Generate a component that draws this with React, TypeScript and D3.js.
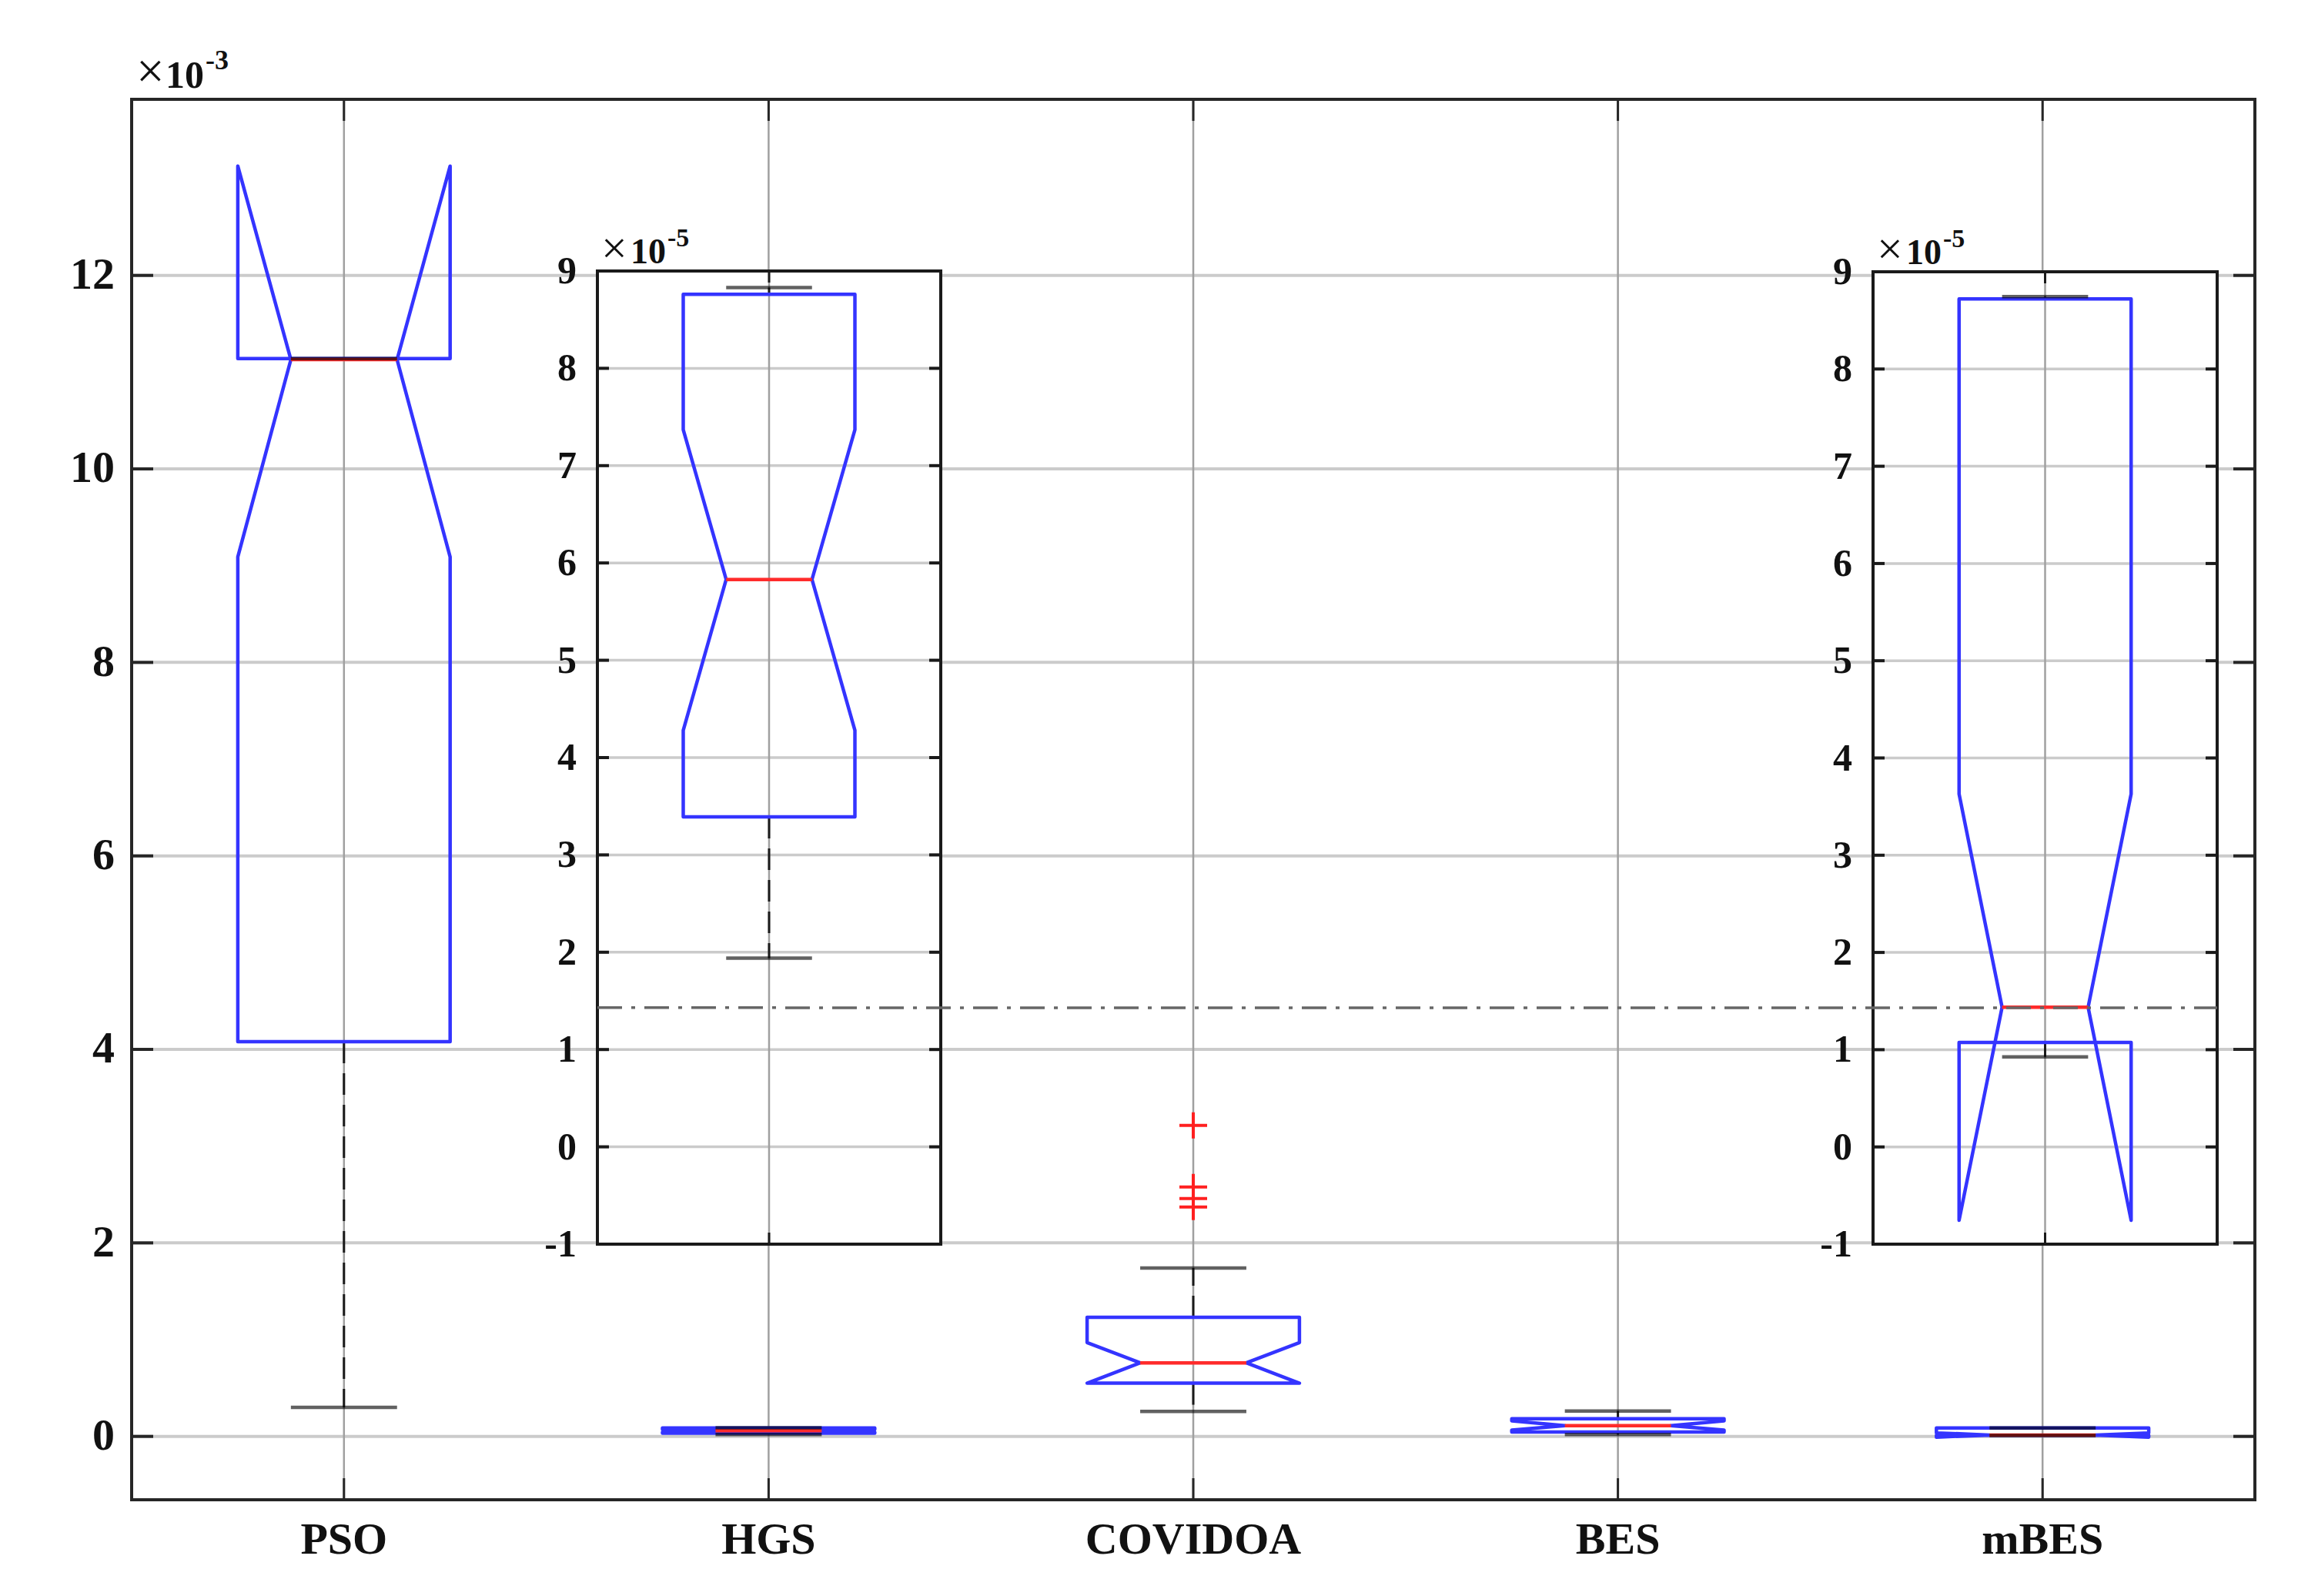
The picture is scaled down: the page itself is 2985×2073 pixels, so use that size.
import React from "react";
import * as d3 from "d3";

// main axes, values x1e-3
const categories = ["PSO", "HGS", "COVIDOA", "BES", "mBES"];
const whiskerLo = [0.3, 0.0194, 0.258, 0.019, 0.0093];
const q1 = [4.08, 0.0339, 0.55, 0.045, 0.0107];
const notchLo = [9.09, 0.0428, 0.55, 0.065, -0.0075];
const median = [11.13, 0.0583, 0.76, 0.111, 0.0144];
const notchHi = [13.13, 0.0737, 0.97, 0.16, 0.0363];
const q3 = [11.14, 0.0876, 1.23, 0.183, 0.0872];
const whiskerHi = [11.14, 0.0882, 1.74, 0.263, 0.0875];
const outliers = [[], [], [3.215, 2.578, 2.459, 2.371], [], []];
const yTicks = [0, 2, 4, 6, 8, 10, 12];

// zoomed insets, values x1e-5
const insetCategories = ["HGS", "mBES"];
const insetWhiskerLo = [1.94, 0.926];
const insetQ1 = [3.39, 1.074];
const insetNotchLo = [4.28, -0.754];
const insetMedian = [5.83, 1.437];
const insetNotchHi = [7.37, 3.63];
const insetQ3 = [8.76, 8.72];
const insetWhiskerHi = [8.83, 8.745];
const insetTicks = [-1, 0, 1, 2, 3, 4, 5, 6, 7, 8, 9];
const refLevel = 1.43; // dash-dot reference (mBES median)

const W = 2985, H = 2073;
const FONT = "'Liberation Serif', 'Times New Roman', serif";
const main = { left: 171, right: 2929, top: 129, bottom: 1948 };
const insetBoxes = [
  { left: 776, right: 1222, top: 352, bottom: 1616 },
  { left: 2433, right: 2880, top: 353, bottom: 1616 },
];

const line = d3.line<[number, number]>();

function BoxGlyph({ x, y, pos, s }) {
  const L = x(pos - 0.25), R = x(pos + 0.25), C = x(pos);
  const IL = x(pos - 0.125), IR = x(pos + 0.125);
  const poly: [number, number][] = [
    [L, y(s.q1)], [L, y(s.nlo)], [IL, y(s.med)], [L, y(s.nhi)], [L, y(s.q3)],
    [R, y(s.q3)], [R, y(s.nhi)], [IR, y(s.med)], [R, y(s.nlo)], [R, y(s.q1)],
  ];
  return (
    <g>
      <line x1={C} x2={C} y1={y(s.q3)} y2={y(s.whi)} stroke="#1a1a1a" strokeWidth={3} strokeDasharray="28 13" />
      <line x1={C} x2={C} y1={y(s.q1)} y2={y(s.wlo)} stroke="#1a1a1a" strokeWidth={3} strokeDasharray="28 13" />
      <path d={line(poly) + "Z"} fill="none" stroke="#3434ff" strokeWidth={4.5} strokeLinejoin="round" />
      <line x1={IL} x2={IR} y1={y(s.med)} y2={y(s.med)} stroke="#ff2b2b" strokeWidth={4.5} />
      <line x1={IL} x2={IR} y1={y(s.whi)} y2={y(s.whi)} stroke="#000" strokeOpacity={0.62} strokeWidth={4.5} />
      <line x1={IL} x2={IR} y1={y(s.wlo)} y2={y(s.wlo)} stroke="#000" strokeOpacity={0.62} strokeWidth={4.5} />
      {s.out.map((v, i) => (
        <path key={i} d={`M${C - 18},${y(v)}H${C + 18}M${C},${y(v) - 17}V${y(v) + 17}`} stroke="#ff2020" strokeWidth={4} />
      ))}
    </g>
  );
}

function Exponent({ x, y, size, dx10, dxSup, supSize, supDy, sup }) {
  return (
    <text x={x} y={y} fontFamily={FONT} fontSize={size} fill="#111">
      <tspan fontSize={size * 1.3}>×</tspan>
      <tspan x={x + dx10} fontWeight="bold">10</tspan>
      <tspan x={x + dxSup} dy={supDy} fontSize={supSize} fontWeight="bold">{sup}</tspan>
    </text>
  );
}

export default function App() {
  const x = d3.scaleLinear().domain([0.5, 5.5]).range([main.left, main.right]);
  const y = d3.scaleLinear().domain([-0.655, 13.82]).range([main.bottom, main.top]);
  const stats = categories.map((c, i) => ({
    wlo: whiskerLo[i], q1: q1[i], nlo: notchLo[i], med: median[i],
    nhi: notchHi[i], q3: q3[i], whi: whiskerHi[i], out: outliers[i],
  }));
  const insets = insetCategories.map((c, i) => {
    const b = insetBoxes[i];
    return {
      b,
      x: d3.scaleLinear().domain([0.5, 1.5]).range([b.left, b.right]),
      y: d3.scaleLinear().domain([-1, 9]).range([b.bottom, b.top]),
      s: {
        wlo: insetWhiskerLo[i], q1: insetQ1[i], nlo: insetNotchLo[i], med: insetMedian[i],
        nhi: insetNotchHi[i], q3: insetQ3[i], whi: insetWhiskerHi[i], out: [],
      },
    };
  });
  const tick = 28, itick = 15;

  return (
    <div style={{ position: "fixed", left: 0, top: 0 }}>
      <svg width={W} height={H} style={{ display: "block", background: "#fff" }}>
        {/* main grid */}
        {yTicks.map(t => (
          <line key={"gy" + t} x1={main.left} x2={main.right} y1={y(t)} y2={y(t)} stroke="#cbcbcb" strokeWidth={4} />
        ))}
        {categories.map((c, i) => (
          <line key={"gx" + c} x1={x(i + 1)} x2={x(i + 1)} y1={main.top} y2={main.bottom} stroke="#a0a0a0" strokeWidth={2.5} />
        ))}
        {/* main boxes */}
        {stats.map((s, i) => <BoxGlyph key={categories[i]} x={x} y={y} pos={i + 1} s={s} />)}
        {/* main frame and ticks */}
        <rect x={main.left} y={main.top} width={main.right - main.left} height={main.bottom - main.top} fill="none" stroke="#262626" strokeWidth={4} />
        {yTicks.map(t => (
          <g key={"ty" + t}>
            <line x1={main.left} x2={main.left + tick} y1={y(t)} y2={y(t)} stroke="#262626" strokeWidth={4} />
            <line x1={main.right - tick} x2={main.right} y1={y(t)} y2={y(t)} stroke="#262626" strokeWidth={4} />
            <text x={main.left - 22} y={y(t)} dy="0.3em" textAnchor="end" fontFamily={FONT} fontWeight="bold" fontSize={58} fill="#111">{t}</text>
          </g>
        ))}
        {categories.map((c, i) => (
          <g key={"tx" + c}>
            <line x1={x(i + 1)} x2={x(i + 1)} y1={main.bottom} y2={main.bottom - tick} stroke="#262626" strokeWidth={3} />
            <line x1={x(i + 1)} x2={x(i + 1)} y1={main.top} y2={main.top + tick} stroke="#262626" strokeWidth={3} />
            <text x={x(i + 1)} y={2018} textAnchor="middle" fontFamily={FONT} fontWeight="bold" fontSize={58} fill="#111">{c}</text>
          </g>
        ))}
        <Exponent x={177} y={114} size={50} dx10={38} dxSup={90} supSize={36} supDy={-24} sup="-3" />

        {/* insets */}
        {insets.map((ins, k) => {
          const { b } = ins;
          return (
            <g key={"inset" + k}>
              <rect x={b.left} y={b.top} width={b.right - b.left} height={b.bottom - b.top} fill="#fff" />
              {insetTicks.map(t => (
                <line key={"igy" + t} x1={b.left} x2={b.right} y1={ins.y(t)} y2={ins.y(t)} stroke="#cbcbcb" strokeWidth={3.5} />
              ))}
              <line x1={ins.x(1)} x2={ins.x(1)} y1={b.top} y2={b.bottom} stroke="#a0a0a0" strokeWidth={2.5} />
              <BoxGlyph x={ins.x} y={ins.y} pos={1} s={ins.s} />
              <rect x={b.left} y={b.top} width={b.right - b.left} height={b.bottom - b.top} fill="none" stroke="#1a1a1a" strokeWidth={4} />
              {insetTicks.map(t => (
                <g key={"ity" + t}>
                  <line x1={b.left} x2={b.left + itick} y1={ins.y(t)} y2={ins.y(t)} stroke="#1a1a1a" strokeWidth={4} />
                  <line x1={b.right - itick} x2={b.right} y1={ins.y(t)} y2={ins.y(t)} stroke="#1a1a1a" strokeWidth={4} />
                  <text x={b.left - 27} y={ins.y(t)} dy="0.32em" textAnchor="end" fontFamily={FONT} fontWeight="bold" fontSize={50} fill="#111">{t}</text>
                </g>
              ))}
              <line x1={ins.x(1)} x2={ins.x(1)} y1={b.top} y2={b.top + itick} stroke="#1a1a1a" strokeWidth={3} />
              <line x1={ins.x(1)} x2={ins.x(1)} y1={b.bottom} y2={b.bottom - itick} stroke="#1a1a1a" strokeWidth={3} />
              <Exponent x={b.left + 5} y={b.top - 10} size={46} dx10={38} dxSup={86} supSize={34} supDy={-22} sup="-5" />
            </g>
          );
        })}

        {/* dash-dot reference line across both insets */}
        <line
          x1={insetBoxes[0].left} x2={insetBoxes[1].right}
          y1={insets[0].y(refLevel)} y2={insets[1].y(refLevel)}
          stroke="#666" strokeWidth={3.5} strokeDasharray="32 12 5 12"
        />
      </svg>
    </div>
  );
}
